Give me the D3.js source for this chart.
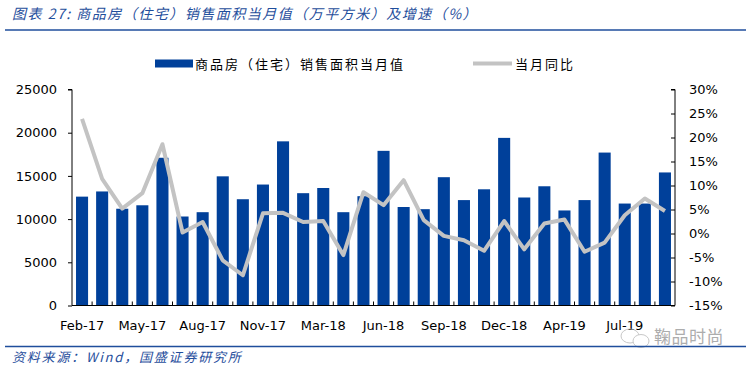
<!DOCTYPE html>
<html><head><meta charset="utf-8">
<script src="https://cdn.jsdelivr.net/npm/d3@7"></script>
<style>
body{margin:0;background:#fff;}
svg{display:block;}
</style></head>
<body><svg id="c" width="751" height="368"></svg>
<script>
const categories = ["Feb-17","Mar-17","Apr-17","May-17","Jun-17","Jul-17","Aug-17","Sep-17","Oct-17","Nov-17","Dec-17",
"Feb-18","Mar-18","Apr-18","May-18","Jun-18","Jul-18","Aug-18","Sep-18","Oct-18","Nov-18","Dec-18",
"Feb-19","Mar-19","Apr-19","May-19","Jun-19","Jul-19","Aug-19","Sep-19"];
const salesArea = [12600,13200,11200,11600,17100,10300,10800,14950,12300,14000,19000,
13000,13600,10800,12650,17900,11400,11150,14850,12200,13450,19400,
12500,13800,11000,12200,17700,11800,11800,15400];
const yoyGrowth = [23.9,11.4,5.2,8.4,18.6,0.2,2.4,-5.6,-8.7,4.2,4.3,
2.4,2.6,-4.5,8.6,5.9,11.1,2.8,-0.5,-1.4,-3.6,2.6,
-3.3,2.1,2.9,-3.8,-1.9,3.8,7.3,4.7];
const xTickLabels = ["Feb-17","May-17","Aug-17","Nov-17","Mar-18","Jun-18","Sep-18","Dec-18","Apr-19","Jul-19"];
const leftTicks = [0,5000,10000,15000,20000,25000];
const rightTicks = [-15,-10,-5,0,5,10,15,20,25,30];
const titleText = "图表 27: 商品房（住宅）销售面积当月值（万平方米）及增速（%）";
const legendBar = "商品房（住宅）销售面积当月值";
const legendLine = "当月同比";
const sourceText = "资料来源：Wind，国盛证券研究所";
const watermark = "鞠品时尚";

const svg = d3.select("#c");
const blue = "#00409A", gray = "#C3C3C3", titleBlue = "#1F4E9C";
const L = 72, R = 675, T = 89.5, B = 305.5;
const cjk = "'Noto Sans CJK SC', sans-serif";
const lat = "'DejaVu Sans', Verdana, sans-serif";

const x = d3.scaleBand().domain(categories).range([L, R]).paddingInner(0.4).paddingOuter(0.2);
const yL = d3.scaleLinear().domain([0,25000]).range([B, T]);
const yR = d3.scaleLinear().domain([-15,30]).range([B, T]);

// title
svg.append("text").attr("x", 12).attr("y", 19).attr("fill", titleBlue)
  .attr("font-family", cjk).attr("font-size", 14).attr("font-style","italic")
  .attr("letter-spacing", 1.5).text(titleText);
svg.append("line").attr("x1",5).attr("x2",746).attr("y1",30).attr("y2",30)
  .attr("stroke", titleBlue).attr("stroke-width",1.5);

// legend
svg.append("rect").attr("x",155).attr("y",59.5).attr("width",38).attr("height",8).attr("fill",blue);
svg.append("text").attr("x",195).attr("y",68.5).attr("font-family",cjk).attr("font-size",13)
  .attr("letter-spacing",2).attr("fill","#000").text(legendBar);
svg.append("line").attr("x1",473).attr("x2",512).attr("y1",63.5).attr("y2",63.5)
  .attr("stroke",gray).attr("stroke-width",4);
svg.append("text").attr("x",515).attr("y",68.5).attr("font-family",cjk).attr("font-size",13)
  .attr("letter-spacing",2).attr("fill","#000").text(legendLine);

// bars
svg.append("g").selectAll("rect").data(categories).join("rect")
  .attr("x", d => x(d)).attr("width", x.bandwidth())
  .attr("y", (d,i) => yL(salesArea[i])).attr("height", (d,i) => B - yL(salesArea[i]))
  .attr("fill", blue);

// left axis
const gL = svg.append("g").attr("transform",`translate(${L},0)`)
  .call(d3.axisLeft(yL).tickValues(leftTicks).tickSize(4).tickPadding(11).tickFormat(d3.format("d")));
// right axis
const gR = svg.append("g").attr("transform",`translate(${R},0)`)
  .call(d3.axisRight(yR).tickValues(rightTicks).tickSize(-4).tickPadding(14).tickFormat(d => d + "%"));
[gL,gR].forEach(g => {
  g.select(".domain").attr("stroke","#000").attr("stroke-width",1);
  g.selectAll(".tick line").attr("stroke","#000");
  g.selectAll("text").attr("font-family",lat).attr("font-size",13).attr("fill","#000");
});
gL.select(".domain").attr("d", `M-4,${T}H0V${B}`);
gR.select(".domain").attr("d", `M-4,${T}H0V${B}`);

// bottom axis line and inner ticks between categories
svg.append("line").attr("x1",L).attr("x2",R).attr("y1",B).attr("y2",B).attr("stroke","#000");
const step = x.step();
svg.append("g").selectAll("line").data(categories.slice(1)).join("line")
  .attr("x1", d => x(d) - (step - x.bandwidth())/2).attr("x2", d => x(d) - (step - x.bandwidth())/2)
  .attr("y1", B).attr("y2", B-4).attr("stroke","#000");
svg.append("g").selectAll("text").data(xTickLabels).join("text")
  .attr("x", d => x(d) + x.bandwidth()/2).attr("y", 330).attr("text-anchor","middle")
  .attr("font-family",lat).attr("font-size",13).attr("fill","#000").text(d => d);

// line
const line = d3.line().x((d,i) => x(categories[i]) + x.bandwidth()/2).y(d => yR(d));
svg.append("path").datum(yoyGrowth).attr("d", line).attr("fill","none")
  .attr("stroke",gray).attr("stroke-width",4).attr("stroke-linejoin","round");

// watermark
const wm = svg.append("g").attr("opacity",0.8);
wm.append("ellipse").attr("cx",630).attr("cy",336).attr("rx",9).attr("ry",7).attr("fill","none").attr("stroke","#bbb");
wm.append("ellipse").attr("cx",641).attr("cy",341).attr("rx",8).attr("ry",6.5).attr("fill","#fff").attr("stroke","#bbb");
wm.append("text").attr("x",654).attr("y",343).attr("font-family",cjk).attr("font-size",17)
  .attr("fill","#999").attr("letter-spacing",0.5).text(watermark);

// bottom line and source
svg.append("line").attr("x1",5).attr("x2",746).attr("y1",346.5).attr("y2",346.5)
  .attr("stroke",titleBlue).attr("stroke-width",1.5);
svg.append("text").attr("x",12).attr("y",362).attr("fill",titleBlue)
  .attr("font-family",cjk).attr("font-size",13).attr("font-style","italic")
  .attr("letter-spacing",1.8).text(sourceText);
</script></body></html>
